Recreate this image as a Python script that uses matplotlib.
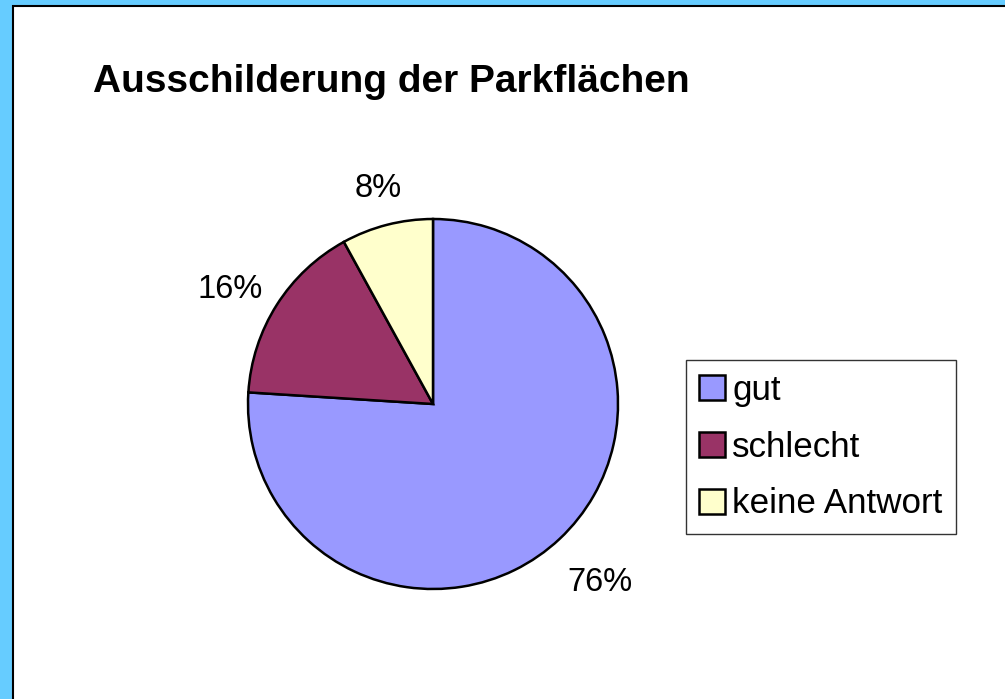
import matplotlib.pyplot as plt
from matplotlib.patches import Rectangle
import numpy as np

# Chart data
categories = ["gut", "schlecht", "keine Antwort"]
shares = [76, 16, 8]
colors = ["#9999ff", "#993366", "#ffffcc"]
label_dist = [1.32, 1.26, 1.2]

plt.rcParams['font.family'] = ['Liberation Sans', 'DejaVu Sans']

W, H = 1005, 699
fig = plt.figure(figsize=(W / 100, H / 100), dpi=100, facecolor="#66ccff")

# white panel with black left/top edge
fig.add_artist(Rectangle((12.5 / W, -0.1), 1.2, 1 + 0.1 - 6.5 / H,
                         transform=fig.transFigure, facecolor="white",
                         edgecolor="black", linewidth=1.5, zorder=-5))

fig.text(93 / W, 1 - 82 / H, "Ausschilderung der Parkflächen",
         fontsize=28, fontweight="bold", va="center", ha="left")

# pie axes: centre (433, 404), radius 185 px
cx, cy, r = 433, 404, 185
lim = 1.05
ax = fig.add_axes([(cx - r * lim) / W, (H - cy - r * lim) / H,
                   2 * r * lim / W, 2 * r * lim / H])
wedges, _ = ax.pie(shares, colors=colors, startangle=90, counterclock=False,
                   wedgeprops=dict(edgecolor="black", linewidth=1.8))
ax.set_xlim(-lim, lim)
ax.set_ylim(-lim, lim)
ax.set_aspect("equal")
ax.axis("off")

for w, val, d in zip(wedges, shares, label_dist):
    mid = np.deg2rad((w.theta1 + w.theta2) / 2 + (3 if val == 16 else 0))
    ax.text(d * np.cos(mid), d * np.sin(mid), f"{val}%", fontsize=23.5,
            ha="center", va="center", clip_on=False)

leg = fig.legend(wedges, categories, loc="center left",
                 bbox_to_anchor=(686 / W, 1 - 447 / H), fontsize=25.2,
                 frameon=True, fancybox=False, edgecolor="black",
                 handlelength=0.72, handleheight=0.72, handletextpad=0.22,
                 labelspacing=0.68, borderpad=0.38, borderaxespad=0)
leg.get_frame().set_linewidth(1.0)

fig.savefig("out.png", dpi=100, facecolor=fig.get_facecolor())
